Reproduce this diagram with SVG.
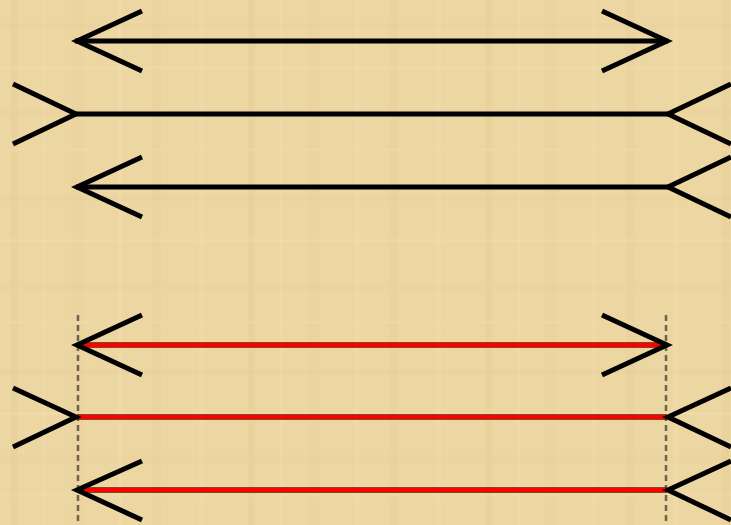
<svg xmlns="http://www.w3.org/2000/svg" width="731" height="525" viewBox="0 0 731 525">
<style>
.k{fill:none;stroke:#000;stroke-width:5;stroke-linecap:butt;stroke-linejoin:miter}
.rb{fill:none;stroke:#5a1a00;stroke-width:5.5}
.r{fill:none;stroke:#ff0000;stroke-width:4}
.d{fill:none;stroke:#6b6250;stroke-width:2.5;stroke-dasharray:6 4}
</style>
<defs>
<pattern id="tex" width="237" height="173" patternUnits="userSpaceOnUse">
<rect width="237" height="173" fill="#ecd6a2"/>
<rect x="11" y="0" width="7" height="173" fill="#e2c88f" opacity="0.25"/>
<rect x="43" y="0" width="3" height="173" fill="#f5e4b8" opacity="0.3"/>
<rect x="71" y="0" width="12" height="173" fill="#e5cb93" opacity="0.2"/>
<rect x="118" y="0" width="4" height="173" fill="#f3e1b3" opacity="0.3"/>
<rect x="152" y="0" width="9" height="173" fill="#e3c990" opacity="0.2"/>
<rect x="199" y="0" width="5" height="173" fill="#f4e2b5" opacity="0.3"/>
<rect x="0" y="23" width="237" height="5" fill="#e2c88e" opacity="0.18"/>
<rect x="0" y="66" width="237" height="3" fill="#f5e4b8" opacity="0.25"/>
<rect x="0" y="109" width="237" height="8" fill="#e4ca91" opacity="0.15"/>
<rect x="0" y="148" width="237" height="3" fill="#f3e1b3" opacity="0.25"/>
</pattern>
</defs>
<rect width="731" height="525" fill="url(#tex)"/>
<g id="connectors">
<g id="dashes">
<line class="d" x1="78" y1="315" x2="78" y2="525"/>
<line class="d" x1="666" y1="315" x2="666" y2="525"/>
</g>
</g>
<g id="row1">
<line class="k" x1="75" y1="41" x2="668" y2="41"/>
<polyline class="k" points="142,11 77,41 142,71"/>
<polyline class="k" points="602,11 667,41 602,71"/>
</g>
<g id="row2">
<line class="k" x1="76" y1="114" x2="668" y2="114"/>
<polyline class="k" points="13,84 76,114 13,144"/>
<polyline class="k" points="731,84 668,114 731,144"/>
</g>
<g id="row3">
<line class="k" x1="76" y1="187" x2="668" y2="187"/>
<polyline class="k" points="142,157 77,187 142,217"/>
<polyline class="k" points="731,157 668,187 731,217"/>
</g>
<g id="row4">
<line class="rb" x1="77" y1="345" x2="667" y2="345"/>
<line class="r" x1="77" y1="345" x2="667" y2="345"/>
<polyline class="k" points="142,315 77,345 142,375"/>
<polyline class="k" points="602,315 667,345 602,375"/>
</g>
<g id="row5">
<line class="rb" x1="77" y1="417" x2="667" y2="417"/>
<line class="r" x1="77" y1="417" x2="667" y2="417"/>
<polyline class="k" points="13,388 76,417 13,447"/>
<polyline class="k" points="731,388 668,417 731,447"/>
</g>
<g id="row6">
<line class="rb" x1="77" y1="490" x2="667" y2="490"/>
<line class="r" x1="77" y1="490" x2="667" y2="490"/>
<polyline class="k" points="142,461 77,490 142,520"/>
<polyline class="k" points="731,461 668,490 731,520"/>
</g>
</svg>
